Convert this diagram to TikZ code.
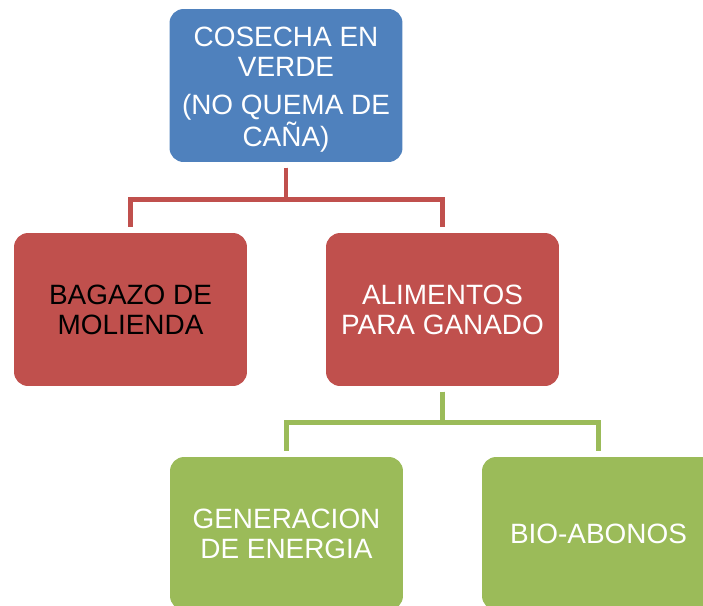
\documentclass[tikz,border=0pt]{standalone}
\usepackage{fontspec}
\setmainfont{Liberation Sans}
\definecolor{boxblue}{HTML}{4F81BD}
\definecolor{boxred}{HTML}{C0504D}
\definecolor{boxgreen}{HTML}{9BBB59}

\tikzset{
  tbox/.style={rounded corners=8pt, minimum width=4.66cm, minimum height=3.06cm,
    align=center, text=white, inner sep=2pt,
    font=\fontsize{15.9}{17}\selectfont},
  bluebox/.style={tbox, fill=boxblue},
  redbox/.style={tbox, fill=boxred},
  greenbox/.style={tbox, fill=boxgreen},
  branch/.style={line width=2.8pt, shorten <=3pt, shorten >=3.5pt},
}

\begin{document}
\begin{tikzpicture}[x=0.02cm, y=-0.02cm]
    \useasboundingbox (0,0) rectangle (703,605);
    \clip (0,0) rectangle (703,605);

    \node[bluebox] (cosecha) at (286,85.5) {\rule{0pt}{16pt}COSECHA EN\\VERDE\\[5pt](NO QUEMA DE\\CAÑA)};

    \node[redbox, text=black] (bagazo) at (130.5,309.5) {BAGAZO DE\\MOLIENDA};
    \node[redbox] (alimentos) at (442.5,309.5) {ALIMENTOS\\PARA GANADO};

    \node[greenbox] (energia) at (286.5,533.5) {GENERACION\\DE ENERGIA};
    \node[greenbox] (abonos) at (598.5,533.5) {BIO-ABONOS};

    \draw[branch, boxred] (cosecha.south) -- ++(0,37) -| (bagazo.north);
    \draw[branch, boxred] (cosecha.south) -- ++(0,37) -| (alimentos.north);

    \draw[branch, boxgreen] (alimentos.south) -- ++(0,36) -| (energia.north);
    \draw[branch, boxgreen] (alimentos.south) -- ++(0,36) -| (abonos.north);
\end{tikzpicture}
\end{document}
